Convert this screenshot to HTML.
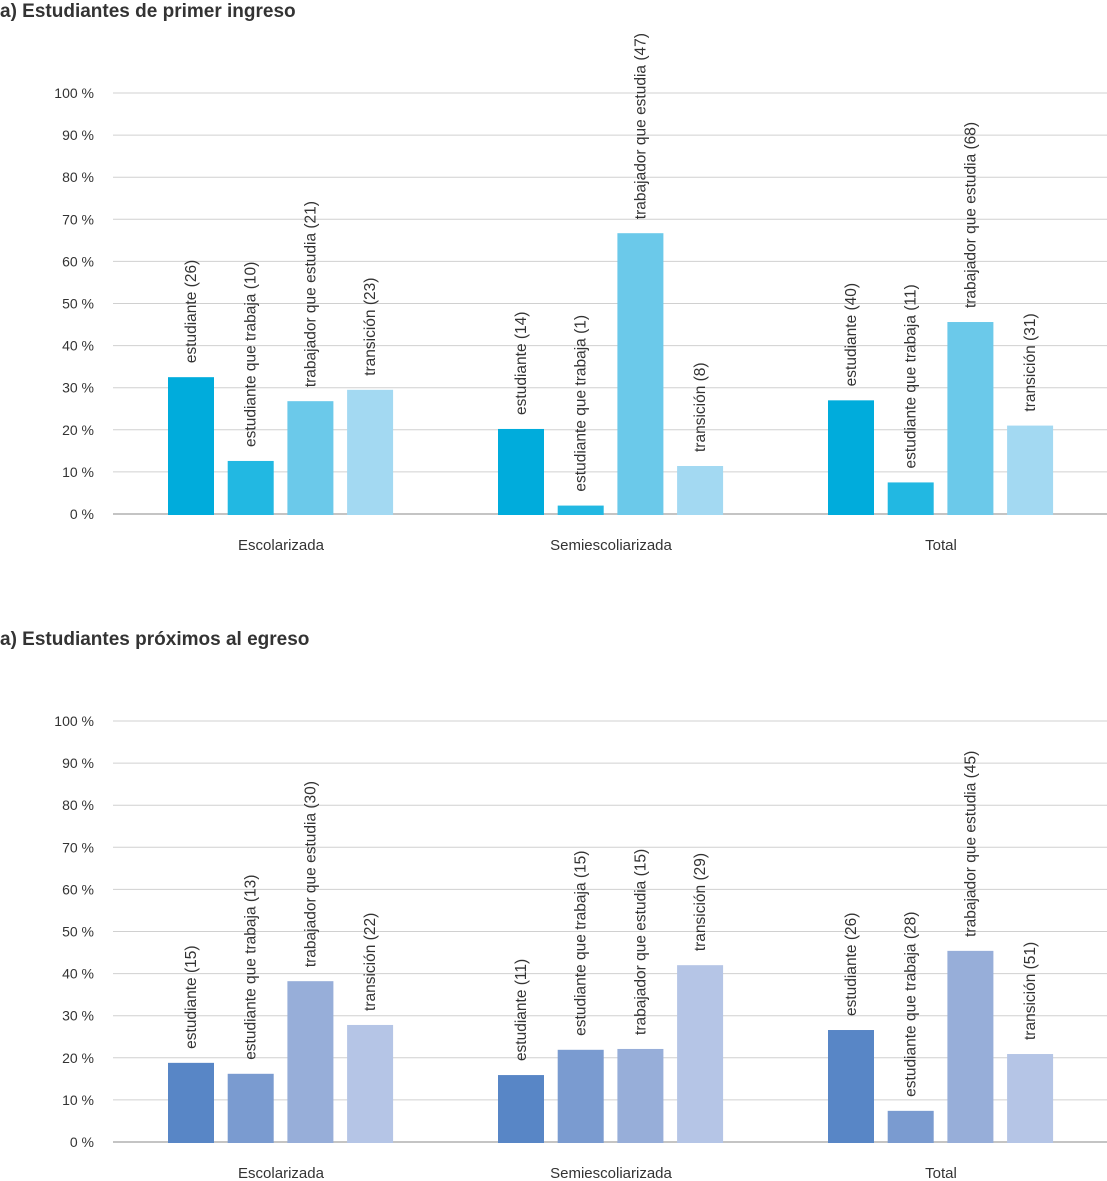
<!DOCTYPE html>
<html><head><meta charset="utf-8"><style>
body{margin:0;background:#fff;width:1107px;height:1181px;overflow:hidden;font-family:"Liberation Sans",sans-serif}
svg{display:block}
text{font-family:"Liberation Sans",sans-serif;fill:#333}
</style></head><body>
<svg id="c" width="1107" height="1181"></svg>
<script>
const categories=["Escolarizada","Semiescoliarizada","Total"];
const seriesNames=["estudiante","estudiante que trabaja","trabajador que estudia","transición"];
const ticks=[0,10,20,30,40,50,60,70,80,90,100];
const topValues=[[32.5,12.6,26.8,29.5],[20.2,2,66.7,11.4],[27,7.5,45.6,21]];
const topCounts=[[26,10,21,23],[14,1,47,8],[40,11,68,31]];
const botValues=[[18.8,16.2,38.2,27.8],[15.9,21.9,22.1,42],[26.6,7.4,45.4,20.9]];
const botCounts=[[15,13,30,22],[11,15,15,29],[26,28,45,51]];
const topColors=["#00acdc","#22b8e2","#6bc9ea","#a3d9f2"];
const botColors=["#5886c6","#7a9bd0","#97aed9","#b5c5e6"];
const NS="http://www.w3.org/2000/svg";
const svg=document.getElementById('c');
function mk(tag,attrs,parent){const e=document.createElementNS(NS,tag);for(const k in attrs)e.setAttribute(k,attrs[k]);(parent||svg).appendChild(e);return e;}
function chart(title,titleY,y0,y100,values,counts,colors,prefix){
  const g=mk('g',{});
  
  
  const t=mk('text',{x:0,y:titleY,'font-size':19,'font-weight':'bold'},g);t.textContent=title;
  
  
  const yS=v=>y0-(v/100)*(y0-y100);
  ticks.forEach(v=>{
    const y=yS(v);
    const l=mk('line',{x1:113,x2:1107,y1:y,y2:y,stroke:v===0?'#888':'#d0d0d0','stroke-width':1},g);
    
    
    const tx=mk('text',{x:94,y:y+5,'font-size':14,'text-anchor':'end'},g);tx.textContent=v+' %';
    
    
  });
  categories.forEach((c,ci)=>{
    const gx=168+ci*330;
    values[ci].forEach((v,si)=>{
      const x=gx+si*59.7, w=46, y=yS(v);
      const r=mk('rect',{x:x,y:y,width:w,height:y0-y+1,fill:colors[si]},g);
      
      
      const cx=x+w/2+5, ly=y-14;
      const tl=mk('text',{x:cx,y:ly,'font-size':15.5,transform:`rotate(-90 ${cx} ${ly})`},g);
      tl.textContent=seriesNames[si]+' ('+counts[ci][si]+')';
      
      
    });
    const cl=mk('text',{x:gx+113,y:y0+36,'font-size':15,'text-anchor':'middle'},g);
    cl.textContent=c;
    
    
  });
}
chart("a) Estudiantes de primer ingreso",17,514,93,topValues,topCounts,topColors,'top');
chart("a) Estudiantes próximos al egreso",645,1142,721,botValues,botCounts,botColors,'bottom');
</script>
</body></html>
